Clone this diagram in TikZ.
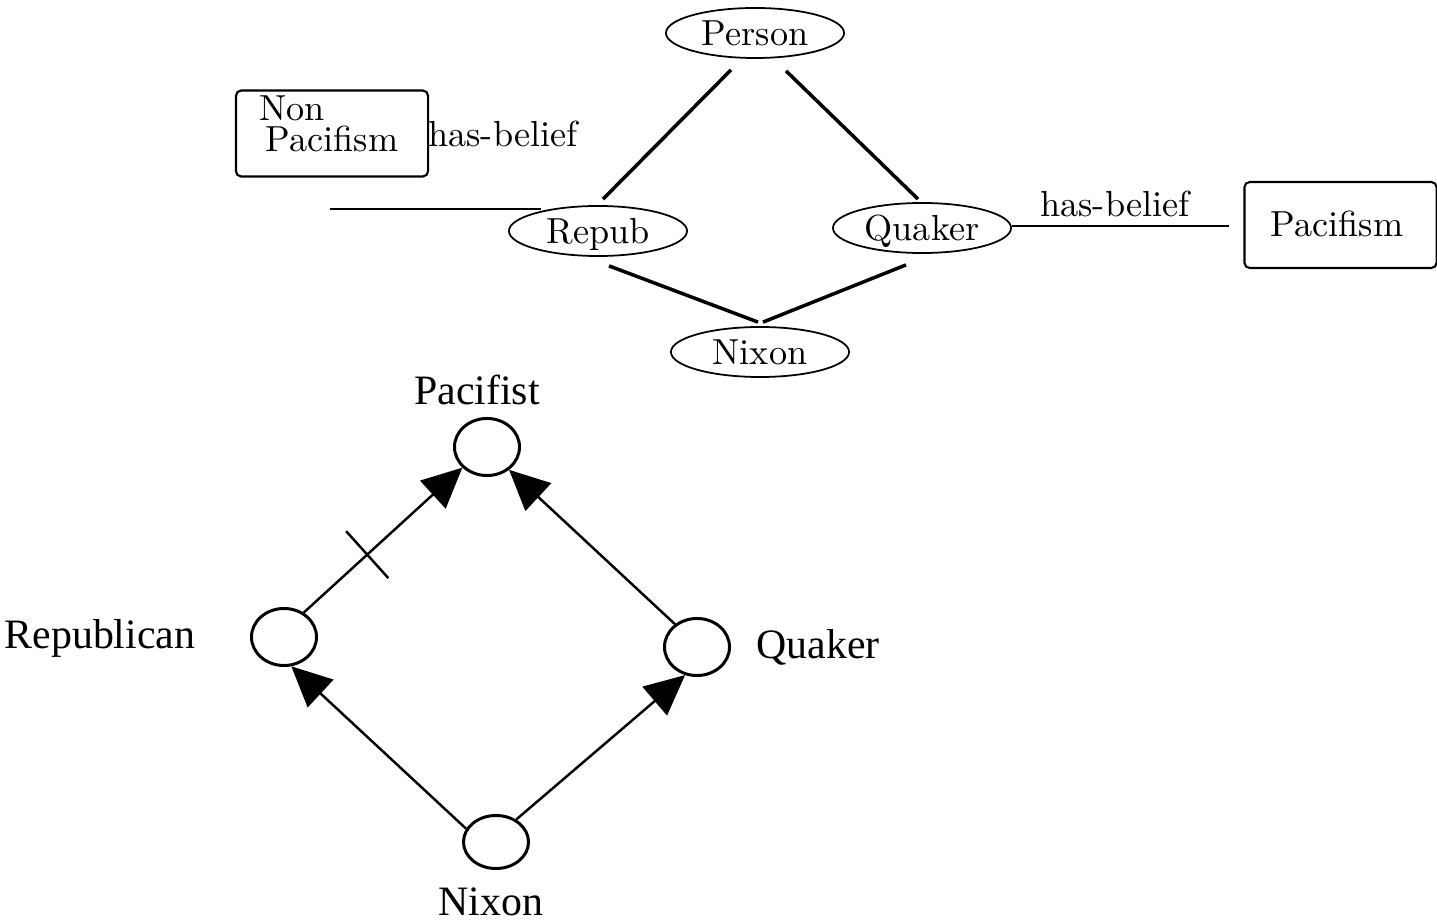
\documentclass[tikz,border=0pt]{standalone}
\usepackage{fontspec}
\newfontfamily\timesfont{Liberation Serif}
\usetikzlibrary{shapes.geometric,arrows.meta,calc}

\begin{document}
\begin{tikzpicture}[x=0.01cm,y=-0.01cm,
  concept/.style={ellipse,draw,line width=0.5pt,inner sep=0pt,
    minimum width=1.78cm,minimum height=0.5cm,text height=7pt,text depth=0pt,
    font=\fontsize{10.3}{12}\selectfont},
  beliefbox/.style={rectangle,draw,line width=0.6pt,rounded corners=1.5pt,
    inner sep=0pt,minimum width=1.92cm,minimum height=0.86cm},
  cmtext/.style={inner sep=0pt,anchor=base,font=\fontsize{10.3}{12}\selectfont},
  link/.style={line width=1pt},
  rel/.style={line width=0.55pt},
  cls/.style={ellipse,draw,line width=0.85pt,inner sep=0pt,
    minimum width=0.65cm,minimum height=0.57cm},
  clslabel/.style={inner sep=0pt,anchor=base,
    font=\timesfont\fontsize{11.9}{14}\selectfont},
  isa/.style={line width=0.7pt,-{Triangle[length=4mm,width=3.75mm]}}]

\useasboundingbox (0,0) rectangle (1437,922);

% ---- concept hierarchy with beliefs ----
\node[concept] (per) at (755,33)  {Person};
\node[concept] (rep) at (598,231) {Repub};
\node[concept] (qk)  at (922,228) {Quaker};
\node[concept] (nx)  at (760,352) {Nixon};

\draw[link] ($(per.south)+(-24,11)$) -- ($(rep.north)+(5,-6)$);
\draw[link] ($(per.south)+(31,12)$)  -- ($(qk.north)+(-4,-3)$);
\draw[link] ($(rep.south)+(11,9)$)   -- ($(nx.north)+(-2,-4)$);
\draw[link] ($(qk.south)+(-16,11)$)  -- ($(nx.north)+(3,-4)$);

\node[beliefbox] (npf) at (332,133.5) {};
\node[cmtext] (npfa) at (292,121) {Non};
\node[cmtext] (npfb) at (332,152) {Pacifism};
\node[cmtext] (hb1) at (503,147) {has-belief};
\coordinate (hb1end) at (330,209);
\draw[rel] (hb1end) -- ($(rep.center)+(-57,-22)$);

\node[beliefbox] (pfm) at (1340.5,225) {};
\node[cmtext] (pfmt) at (1337,237) {Pacifism};
\node[cmtext] (hb2) at (1115,217) {has-belief};
\draw[rel] ($(qk.east)+(0,-2)$) -- ($(pfm.west)+(-14,1)$);

% ---- inheritance net ----
\node[cls] (pac) at (487,447) {};
\node[cls] (rp)  at (284,637) {};
\node[cls] (qu)  at (697,647) {};
\node[cls,minimum height=0.53cm] (ni) at (496,842) {};

\node[clslabel] (lpac) at (477,405) {Pacifist};
\node[clslabel] (lrp)  at (100,648) {Republican};
\node[clslabel] (lqu)  at (818,658) {Quaker};
\node[clslabel] (lni)  at (491,915) {Nixon};

\draw[isa] (rp.51) -- coordinate[pos=0.4] (tk) (pac.220);
\draw[isa] (qu.134) -- (pac.314);
\draw[isa] (ni.156) -- (rp.-76);
\draw[isa] (ni.48) -- (qu.247);
\draw[line width=0.7pt] ($(tk)!0.315cm!90:(pac)$) -- ($(tk)!0.315cm!-90:(pac)$);

\end{tikzpicture}
\end{document}
